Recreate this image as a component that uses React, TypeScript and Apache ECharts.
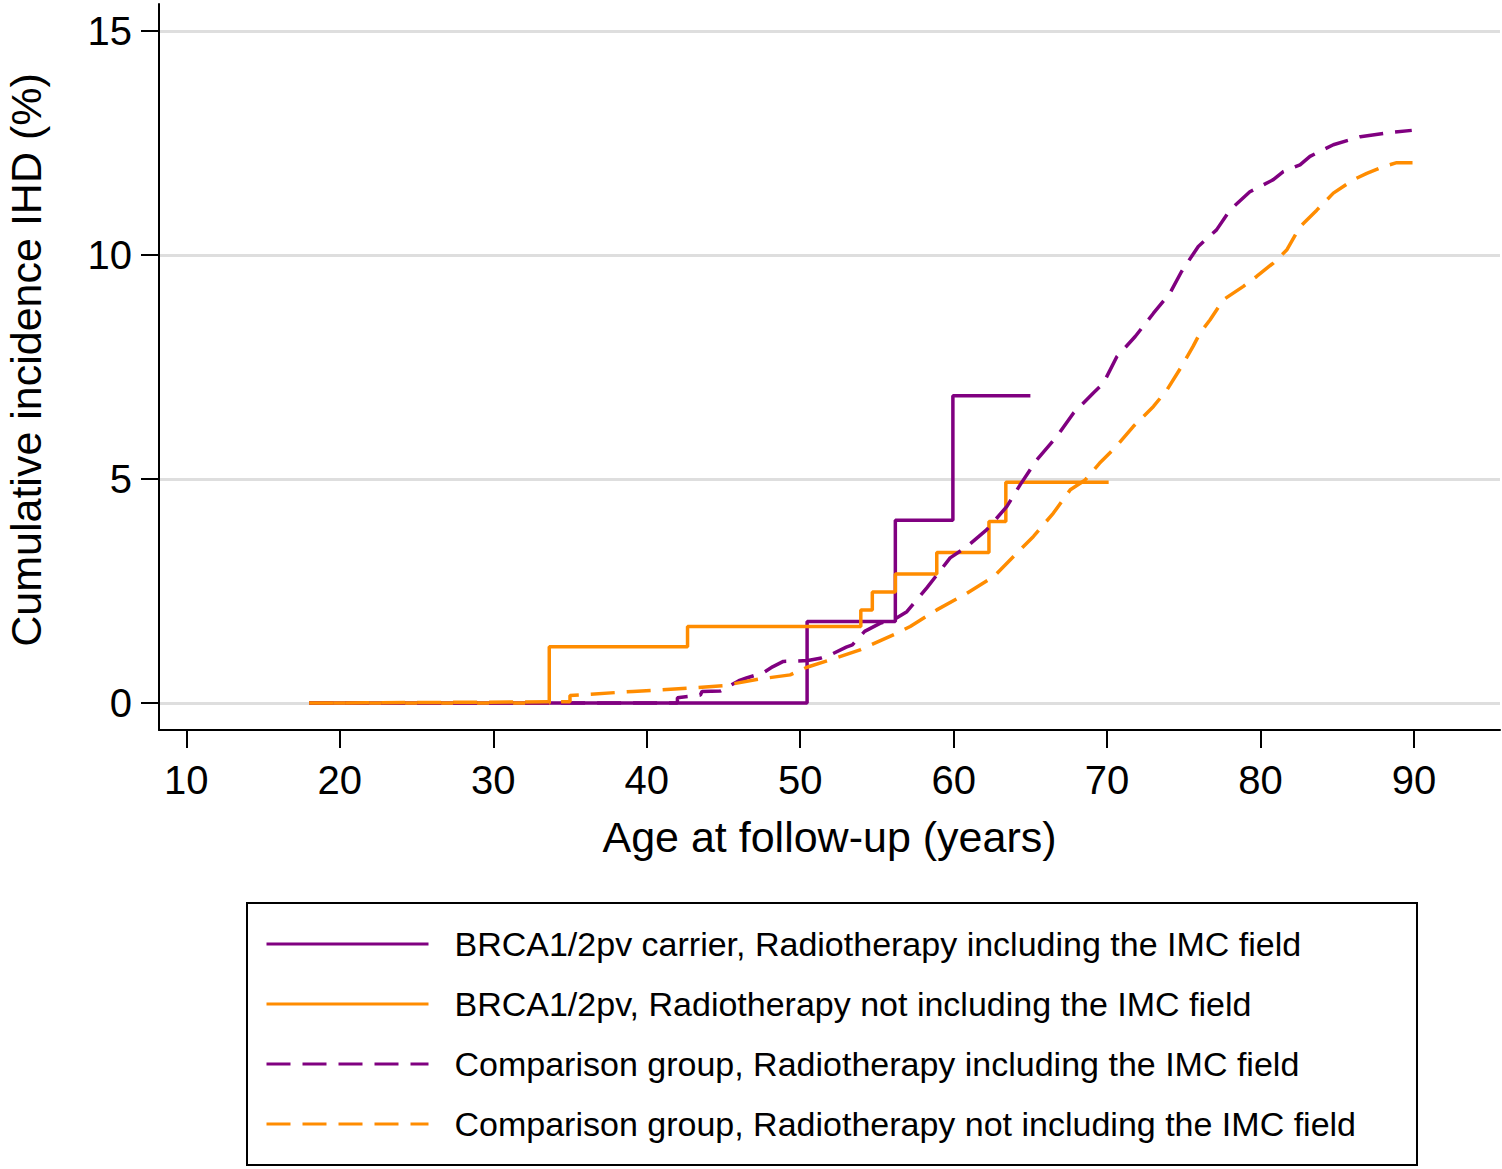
import React, { useEffect, useRef } from "react";
import * as echarts from "echarts";

// ---- data (age in years, cumulative incidence in %) ----
const xTicks = [10, 20, 30, 40, 50, 60, 70, 80, 90];
const yTicks = [0, 5, 10, 15];

const seriesNames = [
  "BRCA1/2pv carrier, Radiotherapy including the IMC field",
  "BRCA1/2pv, Radiotherapy not including the IMC field",
  "Comparison group, Radiotherapy including the IMC field",
  "Comparison group, Radiotherapy not including the IMC field",
];

const brcaImc = [
  [18, 0], [50.45, 1.82], [56.2, 4.08], [59.95, 6.86], [65.0, 6.86],
];

const brcaNoImc = [
  [18, 0], [33.65, 1.26], [42.66, 1.71], [53.95, 2.08], [54.7, 2.48],
  [56.2, 2.88], [58.9, 3.36], [62.3, 4.05], [63.4, 4.93], [70.1, 4.93],
];

const compImc = [
  [18, 0], [42.0, 0], [42.0, 0.12], [43.5, 0.18], [43.6, 0.26], [44.8, 0.27],
  [46.0, 0.5], [46.5, 0.56], [47.6, 0.68], [48.2, 0.81], [48.9, 0.93],
  [50.5, 0.95], [51.3, 1.0], [52.1, 1.1], [53.0, 1.25], [53.4, 1.3],
  [54.2, 1.6], [55.2, 1.78], [56.2, 1.88], [56.95, 2.04], [58.25, 2.57],
  [59.77, 3.24], [60.86, 3.49], [62.16, 3.87], [63.47, 4.39], [64.33, 4.87],
  [65.42, 5.43], [66.72, 5.95], [67.8, 6.47], [69.1, 6.92], [69.76, 7.14],
  [70.63, 7.73], [71.83, 8.18], [73.02, 8.7], [74.1, 9.15], [74.85, 9.63],
  [75.94, 10.19], [77.13, 10.56], [78.0, 11.0], [79.3, 11.41], [80.83, 11.68],
  [81.48, 11.86], [82.57, 12.01], [83.22, 12.2], [84.74, 12.46], [86.5, 12.64],
  [88.43, 12.73], [89.85, 12.78],
];

const compNoImc = [
  [18, 0], [35.0, 0.03], [35.0, 0.17], [39.1, 0.26], [42.6, 0.33], [45.0, 0.39],
  [47.4, 0.54], [49.35, 0.63], [50.44, 0.8], [52.2, 0.99], [53.9, 1.19],
  [56.3, 1.56], [57.17, 1.71], [58.9, 2.08], [60.86, 2.45], [62.6, 2.82],
  [63.9, 3.27], [65.2, 3.72], [66.5, 4.24], [67.6, 4.76], [68.57, 4.98],
  [69.5, 5.35], [70.6, 5.73], [71.7, 6.17], [73.02, 6.62], [73.9, 6.99],
  [74.85, 7.51], [75.6, 7.96], [76.06, 8.26], [76.7, 8.55], [77.57, 9.0],
  [78.88, 9.3], [79.74, 9.52], [80.83, 9.82], [81.7, 10.11], [82.57, 10.63],
  [83.66, 11.0], [84.74, 11.38], [86.05, 11.68], [86.92, 11.82], [88.0, 11.97],
  [88.87, 12.06], [89.9, 12.06],
];

const PURPLE = "#800080";
const ORANGE = "#FF8C00";
const FONT = "Liberation Sans, Arial, sans-serif";

export default function App() {
  const ref = useRef<HTMLDivElement>(null);

  useEffect(() => {
    if (!ref.current) return;
    const chart = echarts.init(ref.current, undefined, { renderer: "svg" });
    const dash = [24, 12];
    const LW = 3.5;
    chart.setOption({
      animation: false,
      backgroundColor: "#ffffff",
      textStyle: { fontFamily: FONT },
      grid: { left: 159, right: 2, top: 4, bottom: 439, containLabel: false, outerBoundsMode: "none" },
      xAxis: {
        type: "value",
        min: 8.22,
        max: 95.6,
        name: "Age at follow-up (years)",
        nameLocation: "middle",
        nameGap: 85,
        nameTextStyle: { fontSize: 43, color: "#000", fontFamily: FONT },
        axisLine: { show: true, onZero: false, lineStyle: { color: "#000", width: 2 } },
        axisTick: { show: true, inside: false, length: 18, customValues: xTicks, lineStyle: { color: "#000", width: 2 } },
        axisLabel: { customValues: xTicks, fontSize: 40, color: "#000", margin: 30, fontFamily: FONT },
        splitLine: { show: false },
      },
      yAxis: {
        type: "value",
        min: -0.6,
        max: 15.6,
        name: "Cumulative incidence IHD (%)",
        nameLocation: "middle",
        nameGap: 112,
        nameTextStyle: { fontSize: 43, color: "#000", fontFamily: FONT, padding: [0, 0, 0, 14] },
        axisLine: { show: true, onZero: false, lineStyle: { color: "#000", width: 2 } },
        axisTick: { show: true, inside: false, length: 18, customValues: yTicks, lineStyle: { color: "#000", width: 2 } },
        axisLabel: { customValues: yTicks, fontSize: 40, color: "#000", margin: 27, fontFamily: FONT },
        splitLine: { show: true, lineStyle: { color: "#DEDEDE", width: 3 } },
      },
      legend: {
        show: true,
        orient: "vertical",
        left: 247,
        top: 903,
        padding: [24, 61, 24, 18],
        itemWidth: 162,
        itemHeight: 20,
        itemGap: 26,
        borderColor: "#000",
        borderWidth: 2,
        itemStyle: { opacity: 0, borderWidth: 0 },
        lineStyle: { width: 3 },
        textStyle: { fontSize: 34, color: "#000", fontFamily: FONT, lineHeight: 34, padding: [0, 0, 0, 21] },
        data: seriesNames,
      },
      series: [
        {
          name: seriesNames[0], type: "line", step: "end", data: brcaImc, symbol: "none",
          lineStyle: { color: PURPLE, width: LW }, itemStyle: { color: PURPLE },
        },
        {
          name: seriesNames[1], type: "line", step: "end", data: brcaNoImc, symbol: "none",
          lineStyle: { color: ORANGE, width: LW }, itemStyle: { color: ORANGE },
        },
        {
          name: seriesNames[2], type: "line", data: compImc, symbol: "none",
          lineStyle: { color: PURPLE, width: LW, type: dash }, itemStyle: { color: PURPLE },
        },
        {
          name: seriesNames[3], type: "line", data: compNoImc, symbol: "none",
          lineStyle: { color: ORANGE, width: LW, type: dash }, itemStyle: { color: ORANGE },
        },
      ],
    });
    return () => chart.dispose();
  }, []);

  return (
    <div
      ref={ref}
      style={{ position: "fixed", left: 0, top: 0, width: 1502, height: 1169, background: "#fff" }}
    />
  );
}
